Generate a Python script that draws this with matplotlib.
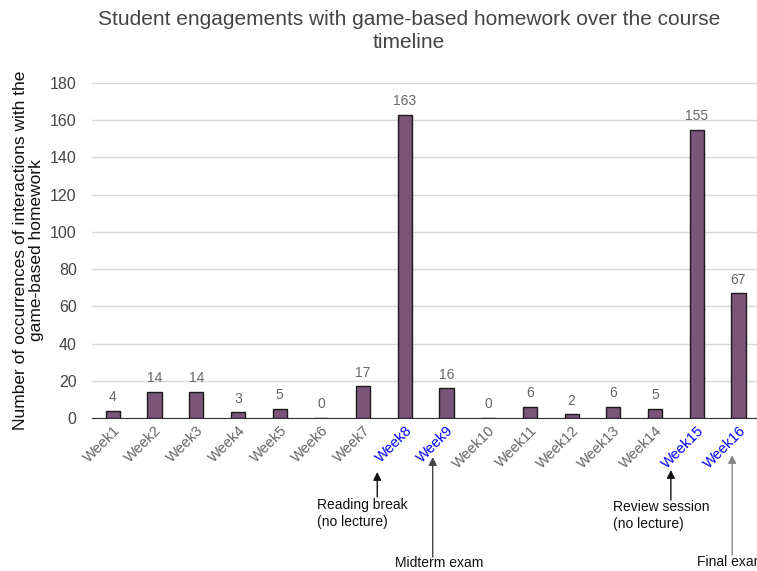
import matplotlib
matplotlib.use("Agg")
import matplotlib.pyplot as plt
import matplotlib.transforms as mtransforms

weeks = [f"Week{i}" for i in range(1, 17)]
counts = [4, 14, 14, 3, 5, 0, 17, 163, 16, 0, 6, 2, 6, 5, 155, 67]
highlight = ["Week8", "Week9", "Week15", "Week16"]
yticks = [0, 20, 40, 60, 80, 100, 120, 140, 160, 180]

plt.rcParams['font.family'] = ['Liberation Sans', 'DejaVu Sans']

fig = plt.figure(figsize=(7.57, 5.71), dpi=100)
ax = fig.add_axes([92/757, 1-418/571, 1-92/757+0.003, (418-83)/571])

x = list(range(len(weeks)))
ax.bar(x, counts, width=0.34, color="#7B5479", edgecolor="#1a1a1a", linewidth=1, zorder=3)
for xi, c in zip(x, counts):
    ax.text(xi, c + 3.5, str(c), ha="center", va="bottom", color="#666666", fontsize=10)

ax.set_xlim(-0.5, len(weeks) - 0.5)
ax.set_ylim(0, 180)
ax.set_yticks(yticks)
ax.yaxis.grid(True, color="#d9d9d9", linewidth=1, zorder=0)
ax.set_axisbelow(True)
for s in ["top", "right", "left"]:
    ax.spines[s].set_visible(False)
ax.spines["bottom"].set_color("#333333")
ax.tick_params(axis="y", length=0, labelsize=11.5, labelcolor="#444444", pad=11)
ax.tick_params(axis="x", length=0, pad=4)
ax.set_xticks(x)
ax.set_xticklabels(weeks, rotation=45, ha="right", rotation_mode="anchor", fontsize=10.5)
for lbl in ax.get_xticklabels():
    lbl.set_color("#0000ff" if lbl.get_text() in highlight else "#666666")

ax.set_ylabel("Number of occurrences of interactions with the\ngame-based homework",
              fontsize=12.5, color="#111111", labelpad=4, linespacing=1.15)

fig.suptitle("Student engagements with game-based homework over the course\ntimeline",
             x=0.54, y=0.983, fontsize=15, color="#444444", linespacing=1.3)

def fy(py):
    return 1 - py / 571

blend = mtransforms.blended_transform_factory(ax.transData, fig.transFigure)
annots = [
    (7, -0.66, 472, 497, "Reading break\n(no lecture)", -1.44, 498, "#111111"),
    (8, -0.33, 457, 557, "Midterm exam", -0.91, 556, "#444444"),
    (14, -0.62, 470, 500, "Review session\n(no lecture)", -1.39, 500, "#111111"),
    (15, -0.15, 455, 555, "Final exam", -0.84, 555, "#888888"),
]
for idx, dx, tip, base, txt, tdx, ty, col in annots:
    ax.annotate("", xy=(idx + dx, fy(tip)), xytext=(idx + dx, fy(base)),
                xycoords=blend, textcoords=blend,
                arrowprops=dict(arrowstyle="-|>", color=col, lw=1,
                                mutation_scale=12, shrinkA=0, shrinkB=0),
                annotation_clip=False)
    ax.text(idx + dx + tdx, fy(ty), txt, transform=blend,
            ha="left", va="top", fontsize=10, color="#111111", clip_on=False, linespacing=1.25)

fig.savefig("out.png", dpi=100)
